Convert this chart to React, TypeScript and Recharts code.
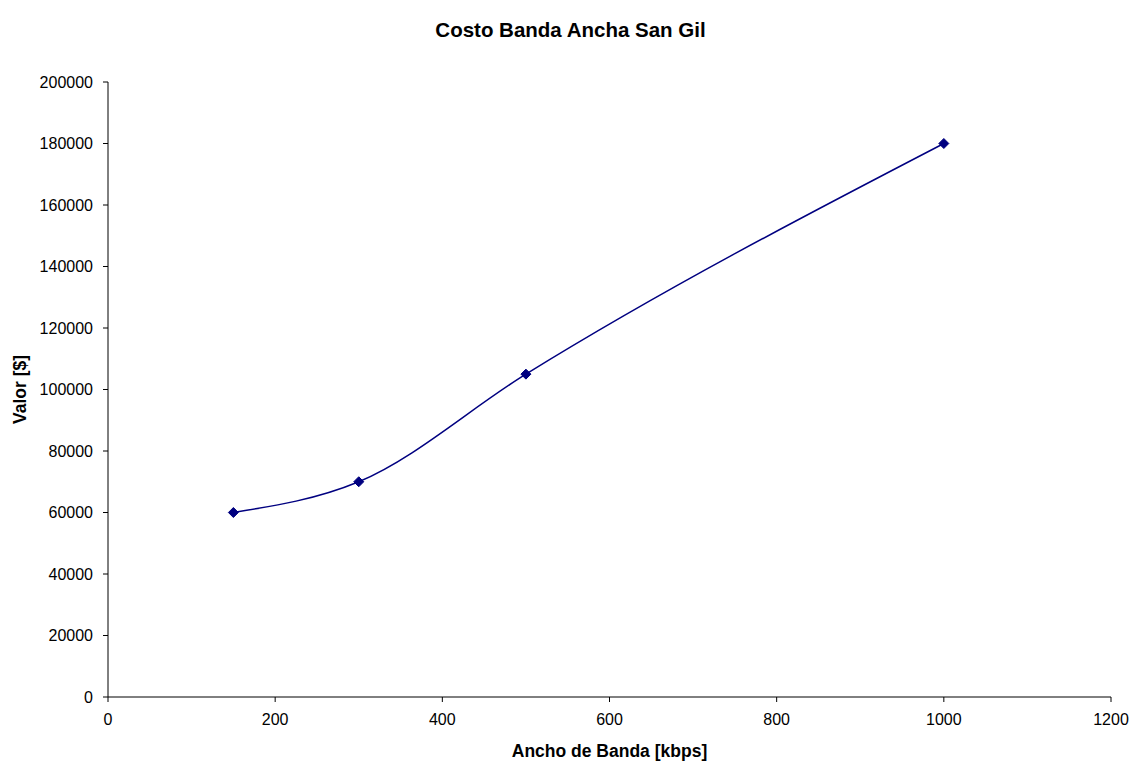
import React from 'react';
import { LineChart, Line, XAxis, YAxis, Label } from 'recharts';

const anchoBanda = [150, 300, 500, 1000];
const valores = [60000, 70000, 105000, 180000];
const xTicks = [0, 200, 400, 600, 800, 1000, 1200];
const yTicks = [0, 20000, 40000, 60000, 80000, 100000, 120000, 140000, 160000, 180000, 200000];

const data = anchoBanda.map((x, i) => ({ x, valor: valores[i] }));

const font = '"Liberation Sans", Arial, sans-serif';

const Diamond = (props: any) => {
    const { cx, cy } = props;
    if (cx == null || cy == null) return null;
    const r = 5;
    return (
        <polygon
            points={`${cx},${cy - r} ${cx + r},${cy} ${cx},${cy + r} ${cx - r},${cy}`}
            fill="#000080"
            stroke="#000080"
        />
    );
};

const App: React.FC = () => {
    return (
        <div style={{ position: 'relative', width: 1133, height: 753, fontFamily: font }}>
            <div
                style={{
                    position: 'absolute',
                    top: 10,
                    left: 0,
                    width: 1125,
                    textAlign: 'center',
                    fontWeight: 'bold',
                    fontSize: 20.5,
                    color: '#000',
                }}
            >
                Costo Banda Ancha San Gil
            </div>
            <LineChart
                width={1133}
                height={753}
                data={data}
                margin={{ top: 74, right: 30, bottom: 0, left: 0 }}
                style={{ fontFamily: font }}
            >
                <XAxis
                    dataKey="x"
                    type="number"
                    domain={[0, 1200]}
                    ticks={xTicks}
                    tick={{ fill: '#000', fontSize: 16 }}
                    tickSize={5}
                    tickMargin={12}
                    stroke="#000"
                    height={64}
                >
                    <Label
                        value="Ancho de Banda [kbps]"
                        position="insideBottom"
                        offset={4}
                        style={{ fontWeight: 'bold', fontSize: 17.5, fill: '#000' }}
                    />
                </XAxis>
                <YAxis
                    type="number"
                    domain={[0, 200000]}
                    ticks={yTicks}
                    tick={{ fill: '#000', fontSize: 16 }}
                    tickSize={5}
                    tickMargin={10}
                    stroke="#000"
                    width={100}
                >
                    <Label
                        value="Valor [$]"
                        angle={-90}
                        position="insideLeft"
                        offset={12}
                        style={{ fontWeight: 'bold', fontSize: 17.5, fill: '#000', textAnchor: 'middle' }}
                    />
                </YAxis>
                <Line
                    type="monotone"
                    dataKey="valor"
                    stroke="#000080"
                    strokeWidth={1.5}
                    dot={<Diamond />}
                    activeDot={false}
                    isAnimationActive={false}
                />
            </LineChart>
        </div>
    );
};

export default App;
